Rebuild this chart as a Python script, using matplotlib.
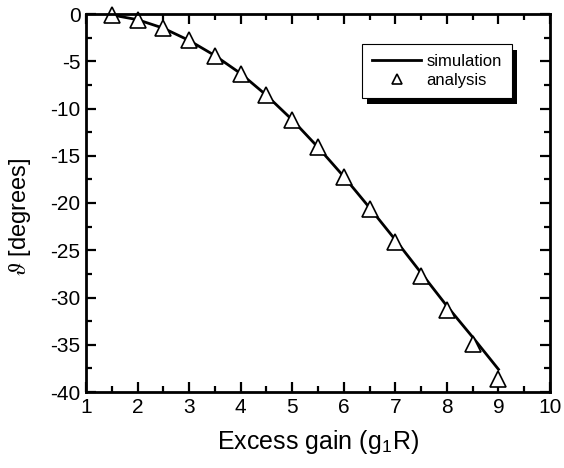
import matplotlib

matplotlib.use("Agg")
import matplotlib.pyplot as plt
from matplotlib.ticker import MultipleLocator
from matplotlib.patches import Rectangle
from matplotlib.transforms import IdentityTransform

plt.rcParams["font.family"] = ["Liberation Sans", "DejaVu Sans"]
plt.rcParams["mathtext.fontset"] = "stix"
plt.rcParams["axes.unicode_minus"] = False

# excess gain values (g1R)
gain = [1.5, 2.0, 2.5, 3.0, 3.5, 4.0, 4.5, 5.0, 5.5, 6.0, 6.5, 7.0, 7.5, 8.0, 8.5, 9.0]
# simulated angle (degrees)
simulation = [-0.1, -0.6, -1.5, -2.8, -4.4, -6.3, -8.6, -11.2, -14.1, -17.2,
              -20.5, -23.9, -27.4, -30.9, -34.2, -37.6]
# analytic angle (degrees)
analysis = [-0.1, -0.6, -1.5, -2.8, -4.4, -6.3, -8.6, -11.2, -14.1, -17.3,
            -20.6, -24.1, -27.7, -31.3, -34.9, -38.6]

fig = plt.figure(figsize=(5.64, 4.68), dpi=100)
ax = fig.add_axes([86 / 564, 1 - 392 / 468, 464 / 564, 378 / 468])

ax.plot(gain, simulation, color="black", linewidth=2.0, label="simulation")
ax.plot(gain, analysis, linestyle="none", marker="^", markersize=11,
        markerfacecolor="white", markeredgecolor="black", markeredgewidth=1.2,
        label="analysis", clip_on=False)

ax.set_xlim(1, 10)
ax.set_ylim(-40, 0)
ax.xaxis.set_major_locator(MultipleLocator(1))
ax.xaxis.set_minor_locator(MultipleLocator(0.5))
ax.yaxis.set_major_locator(MultipleLocator(5))
ax.yaxis.set_minor_locator(MultipleLocator(2.5))
ax.tick_params(which="both", direction="in", top=True, right=True, width=1.6)
ax.tick_params(which="major", length=7, labelsize=15, pad=4)
ax.tick_params(which="minor", length=4)
for spine in ax.spines.values():
    spine.set_linewidth(2.0)

ax.set_xlabel(r"Excess gain (g$_{\mathregular{1}}$R)", fontsize=18, labelpad=8)
ax.set_ylabel(r"$\vartheta$ [degrees]", fontsize=17)
ax.yaxis.set_label_coords(-0.115, 0.463)

leg = ax.legend(loc="upper right", bbox_to_anchor=(0.918, 0.921), bbox_transform=ax.transAxes,
                borderaxespad=0, frameon=True, fancybox=False, framealpha=1.0,
                fontsize=12, markerscale=0.7, handlelength=2.9, handletextpad=0.35,
                borderpad=0.6, labelspacing=0.25)
leg.get_frame().set_edgecolor("black")
leg.get_frame().set_linewidth(0.8)
leg.get_frame().set_facecolor("white")
leg.set_zorder(5)

# hard drop shadow behind the legend box
fig.canvas.draw()
bb = leg.get_window_extent()
shadow = Rectangle((bb.x0 + 5, bb.y0 - 6), bb.width, bb.height, transform=IdentityTransform(),
                   facecolor="black", edgecolor="none", zorder=4.9)
ax.add_artist(shadow)

fig.savefig("out.png", dpi=100)
